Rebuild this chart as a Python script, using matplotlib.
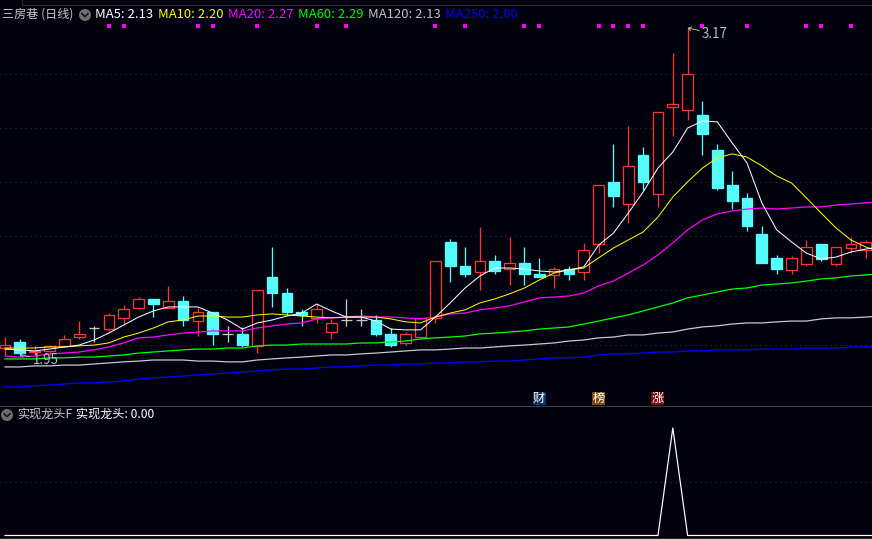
import matplotlib
matplotlib.use("Agg")
import matplotlib.pyplot as plt
from matplotlib.patches import Rectangle, Circle

plt.rcParams['font.family'] = ['Noto Sans CJK SC', 'DejaVu Sans']

opens = [1.970,1.993,1.955,1.959,1.978,2.011,2.045,2.041,2.083,2.120,2.154,2.120,2.146,2.071,2.105,2.023,2.023,1.978,2.236,2.176,
         2.105,2.083,2.030,2.075,2.075,2.075,2.023,1.989,2.011,2.083,2.368,2.278,2.255,2.296,2.266,2.289,2.248,2.244,2.266,2.255,
         2.360,2.593,2.510,2.694,2.548,2.874,2.863,2.844,2.713,2.581,2.533,2.398,2.308,2.263,2.285,2.360,2.285,2.345,2.338]
closes = [1.981,1.951,1.959,1.978,2.004,2.023,2.045,2.094,2.116,2.154,2.135,2.146,2.075,2.105,2.023,2.023,1.981,2.188,2.176,2.105,
          2.094,2.116,2.064,2.075,2.075,2.023,1.981,2.023,2.083,2.296,2.278,2.248,2.296,2.259,2.289,2.248,2.236,2.266,2.248,2.338,
          2.581,2.540,2.653,2.593,2.855,2.885,2.998,2.773,2.570,2.521,2.428,2.289,2.266,2.308,2.349,2.304,2.349,2.360,2.368]
highs = [2.011,2.004,1.978,1.981,2.019,2.071,2.053,2.101,2.131,2.161,2.154,2.203,2.165,2.120,2.105,2.053,2.049,2.188,2.349,2.195,
         2.116,2.135,2.079,2.154,2.116,2.094,2.045,2.030,2.083,2.296,2.379,2.349,2.424,2.319,2.386,2.349,2.308,2.274,2.278,2.364,
         2.581,2.735,2.803,2.724,2.855,3.076,3.170,2.896,2.735,2.634,2.551,2.428,2.319,2.315,2.375,2.360,2.349,2.386,2.375]
lows = [1.944,1.940,1.944,1.944,1.978,2.004,1.993,2.034,2.056,2.116,2.086,2.120,2.053,2.015,1.981,1.993,1.974,1.951,2.124,2.094,
        2.053,2.064,2.004,2.053,2.053,2.015,1.974,1.981,2.004,2.064,2.218,2.236,2.188,2.248,2.206,2.206,2.236,2.195,2.225,2.225,
        2.326,2.499,2.439,2.563,2.499,2.765,2.825,2.694,2.563,2.491,2.409,2.289,2.248,2.248,2.278,2.296,2.278,2.326,2.308]

ma5 = [1.966,1.963,1.959,1.966,1.974,1.981,2.000,2.026,2.056,2.086,2.109,2.124,2.124,2.124,2.101,2.075,2.041,2.064,2.075,2.090,
       2.101,2.135,2.109,2.086,2.086,2.071,2.041,2.038,2.038,2.086,2.139,2.195,2.240,2.270,2.270,2.266,2.259,2.255,2.263,2.274,
       2.356,2.401,2.476,2.555,2.645,2.705,2.795,2.821,2.818,2.739,2.664,2.514,2.413,2.368,2.326,2.304,2.311,2.330,2.341,2.349]
ma10 = [1.970,1.970,1.970,1.974,1.974,1.978,1.981,1.989,2.011,2.026,2.045,2.068,2.075,2.090,2.090,2.086,2.086,2.094,2.098,2.094,
        2.090,2.086,2.083,2.086,2.086,2.086,2.079,2.068,2.064,2.086,2.101,2.113,2.139,2.154,2.173,2.195,2.225,2.251,2.263,2.270,
        2.308,2.345,2.375,2.405,2.461,2.536,2.593,2.645,2.683,2.698,2.686,2.653,2.615,2.589,2.533,2.476,2.420,2.375,2.349,2.330]
ma20 = [1.940,1.936,1.940,1.948,1.951,1.955,1.963,1.974,1.989,2.008,2.011,2.019,2.026,2.030,2.034,2.034,2.034,2.045,2.053,2.060,
        2.064,2.079,2.083,2.086,2.090,2.086,2.086,2.083,2.079,2.086,2.098,2.101,2.113,2.120,2.128,2.143,2.158,2.161,2.165,2.176,
        2.203,2.221,2.251,2.281,2.319,2.364,2.413,2.450,2.473,2.484,2.491,2.495,2.491,2.495,2.499,2.499,2.506,2.510,2.514,2.518]
ma60 = [1.929,1.929,1.929,1.933,1.933,1.936,1.936,1.940,1.944,1.951,1.955,1.959,1.963,1.966,1.966,1.970,1.970,1.978,1.981,1.981,
        1.985,1.985,1.985,1.985,1.989,1.989,1.993,1.996,2.004,2.008,2.011,2.015,2.023,2.026,2.030,2.034,2.041,2.045,2.049,2.060,
        2.071,2.083,2.094,2.109,2.124,2.139,2.158,2.169,2.180,2.191,2.195,2.206,2.210,2.214,2.221,2.229,2.233,2.240,2.244,2.248]
ma120 = [1.899,1.899,1.903,1.903,1.906,1.906,1.910,1.914,1.918,1.921,1.925,1.925,1.925,1.921,1.921,1.918,1.918,1.925,1.929,1.933,
         1.936,1.940,1.944,1.944,1.948,1.951,1.955,1.959,1.963,1.963,1.966,1.970,1.970,1.974,1.978,1.981,1.985,1.989,1.996,2.000,
         2.008,2.011,2.019,2.019,2.026,2.030,2.041,2.049,2.053,2.060,2.064,2.064,2.068,2.071,2.071,2.079,2.083,2.083,2.086,2.090]
ma250 = [1.824,1.824,1.828,1.831,1.835,1.839,1.839,1.843,1.846,1.854,1.858,1.861,1.865,1.869,1.873,1.876,1.880,1.884,1.888,1.891,
         1.891,1.895,1.899,1.899,1.903,1.906,1.906,1.910,1.910,1.914,1.914,1.918,1.918,1.921,1.921,1.925,1.929,1.933,1.933,1.936,
         1.944,1.948,1.948,1.951,1.955,1.955,1.959,1.959,1.963,1.963,1.963,1.966,1.966,1.966,1.970,1.970,1.970,1.974,1.974,1.977]
signal_days = [7,8,13,14,17,21,23,29,31,35,36,40,41,42,43,47,50,54,55,57]
grid_prices = [2.9975,2.795,2.5925,2.39,2.1875,1.981]
indicator = [0]*45 + [1] + [0]*14
high_label = "3.17"
low_label = "1.95"
title = "三房巷 (日线)"
legend_names = ["MA5: 2.13","MA10: 2.20","MA20: 2.27","MA60: 2.29","MA120: 2.13","MA250: 2.00"]
badge_days = [36,40,44]
badge_text = ["财","榜","涨"]
sub_name = "实现龙头F"
sub_value = "实现龙头: 0.00"

BG = "#02020e"
RED = "#ff3232"
CYAN = "#54fcfc"
DOJI = "#c8c8c8"
W, H = 872, 539
PX = 0.72

fig = plt.figure(figsize=(W/100, H/100), dpi=100, facecolor=BG)
ax = fig.add_axes([0, 1-405/H, 1, 405/H], facecolor=BG)
sub = fig.add_axes([0, 0, 1, 1-406/H], facecolor=BG)
over = fig.add_axes([0, 0, 1, 1], facecolor="none")
over.set_xlim(0, W); over.set_ylim(H, 0); over.axis("off")

xlim = (-5/14.84, (W-5)/14.84)
ax.set_xlim(*xlim); ax.set_ylim(1.75625, 3.275); ax.axis("off")
sub.set_xlim(*xlim); sub.set_ylim(-3.5/107, (535.5-406)/107.5); sub.axis("off")

for g in grid_prices:
    ax.axhline(g, color="#343434", lw=PX, ls=(0, (1, 4)), zorder=1)
sub.axhline(0.5, color="#343434", lw=PX, ls=(0, (1, 4)), zorder=1)

bw = 0.72
for i, (o, c, h, l) in enumerate(zip(opens, closes, highs, lows)):
    if o == c:
        col = DOJI
    elif c > o:
        col = RED
    else:
        col = CYAN
    ax.vlines(i, l, h, color=col, lw=PX*1.3, zorder=2)
    if o == c:
        ax.hlines(o, i-bw/2, i+bw/2, color=col, lw=PX*1.3, zorder=3)
    else:
        ax.add_patch(Rectangle((i-bw/2, min(o, c)), bw, abs(c-o),
                               facecolor=(BG if c > o else CYAN), edgecolor=col,
                               lw=PX*1.3, zorder=3))

days = list(range(len(ma5)))
for ser, col, lw in [(ma250, "#0000ff", PX*1.3), (ma120, "#c8c8c8", PX*1.25), (ma60, "#00ff00", PX*1.25),
                     (ma20, "#ff00ff", PX*1.25), (ma10, "#ffff00", PX), (ma5, "#ffffff", PX)]:
    ax.plot(days, ser, color=col, lw=lw, zorder=5)

ax.scatter(signal_days, [3.1775]*len(signal_days), marker="s", s=6, color="#ff00ff", lw=0, zorder=6)

ann = dict(color="#b4bcc8", fontsize=9.6, va="center", ha="left", textcoords="offset pixels", zorder=7,
           arrowprops=dict(arrowstyle="->,head_length=0.2,head_width=0.15", color="#b4b4b4", lw=0.7,
                           shrinkA=0, shrinkB=0))
ax.annotate(high_label, xy=(46, 3.17), xytext=(14, -6), **ann)
ax.annotate(low_label, xy=(1, 1.945), xytext=(13, -5), **ann)

sub.plot(days, indicator, color="#ffffff", lw=PX*1.2, zorder=5)

# badges
for d, t, col in zip(badge_days, badge_text, ["#0c3560", "#7a4a10", "#7a0c0c"]):
    xp = 5 + 14.84*d
    over.add_patch(Rectangle((xp-6.5, 392), 13, 13, facecolor=col, edgecolor="none"))
    over.text(xp, 398.3, t, color="#ffffff", fontsize=8.8, ha="center", va="center")

# separators
over.plot([0, W], [406, 406], color="#3c3c3c", lw=PX)
over.plot([0, W], [537.5, 537.5], color="#2a2a2a", lw=PX)
over.plot([22, W], [5, 5], color="#303030", lw=PX)
over.plot([22, 22], [0, 5], color="#303030", lw=PX)

def chevron(cx, cy):
    over.add_patch(Circle((cx, cy), 6, facecolor="#6e6e6e", edgecolor="none"))
    over.plot([cx-3, cx, cx+3], [cy-1.3, cy+1.7, cy-1.3], color="#101010", lw=1.1)

fs = 9.4
cjk = 8.7
over.text(2, 14, title, color="#c8c8c8", fontsize=cjk, va="center", ha="left")
chevron(85, 15)
for x, t, col in zip([95, 158, 228, 298, 368, 445], legend_names,
                     ["#ffffff", "#ffff00", "#ff00ff", "#00ff00", "#c0c0c0", "#0000ff"]):
    over.text(x, 15, t, color=col, fontsize=fs, va="center", ha="left")
chevron(7, 415)
over.text(17, 414.5, sub_name, color="#c8c8c8", fontsize=cjk, va="center", ha="left")
over.text(76, 414.5, sub_value, color="#ffffff", fontsize=cjk, va="center", ha="left")

fig.savefig("out.png", dpi=100, facecolor=BG)
